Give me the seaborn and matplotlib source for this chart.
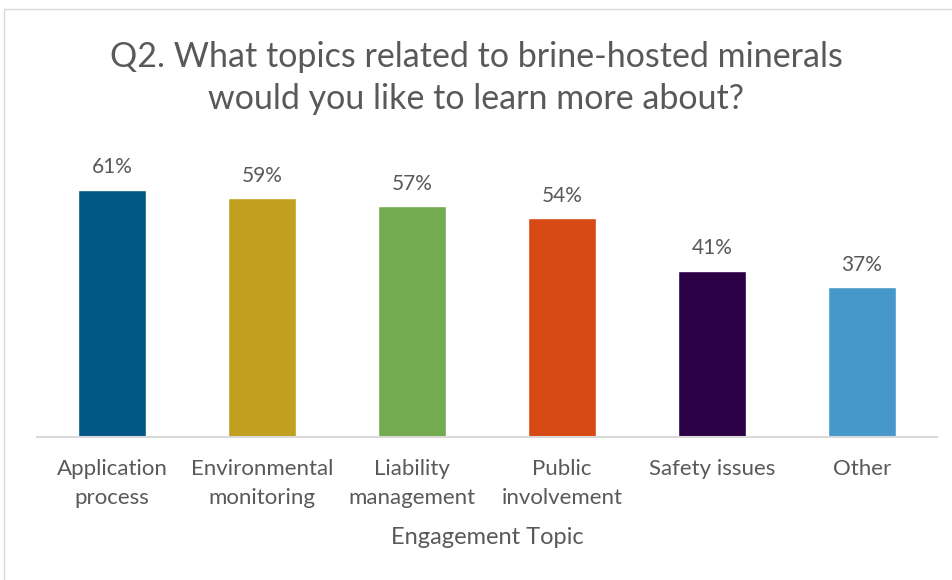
import matplotlib
matplotlib.use("Agg")
import matplotlib.pyplot as plt
import seaborn as sns
import pandas as pd
from matplotlib.patches import Rectangle

categories = ["Application\nprocess", "Environmental\nmonitoring", "Liability\nmanagement",
              "Public\ninvolvement", "Safety issues", "Other"]
values = [61, 59, 57, 54, 41, 37]
value_labels = ["61%", "59%", "57%", "54%", "41%", "37%"]
colors = ["#005685", "#C19F1F", "#73AB50", "#D84A14", "#2B0045", "#4697CA"]

sns.set_theme(style="white")
plt.rcParams["font.family"] = ["Lato", "DejaVu Sans"]
TXT = "#595959"

df = pd.DataFrame({"topic": categories, "pct": values})

fig = plt.figure(figsize=(9.52, 5.8), dpi=100)
fig.patch.set_facecolor("white")
ax = fig.add_axes([37/952, 143/580, 900/952, 0.4888])
sns.barplot(data=df, x="topic", y="pct", hue="topic", palette=colors,
            width=0.45, legend=False, ax=ax, saturation=1)
ax.set_ylim(0, 70)
ax.set_xlim(-0.5, 5.5)
for i, (v, lab) in enumerate(zip(values, value_labels)):
    ax.annotate(lab, (i, v), xytext=(0, 9), textcoords="offset points",
                ha="center", va="bottom", fontsize=15, color=TXT)
for s in ["top", "right", "left"]:
    ax.spines[s].set_visible(False)
ax.spines["bottom"].set_color("#D9D9D9")
ax.spines["bottom"].set_linewidth(1.5)
ax.set_yticks([])
ax.set_ylabel("")
ax.tick_params(axis="x", length=0, pad=16, labelsize=16, labelcolor=TXT)
for t in ax.get_xticklabels():
    t.set_linespacing(1.55)
ax.set_xlabel("Engagement Topic", fontsize=17, color=TXT, labelpad=14)

fig.text(0.5, 1 - 78/580, "Q2. What topics related to brine-hosted minerals\nwould you like to learn more about?",
         ha="center", va="center", fontsize=24.5, color=TXT, linespacing=1.42)

fig.patches.append(Rectangle((4/952, -0.1), 1.2, (580 - 9)/580 + 0.1, transform=fig.transFigure,
                             fill=False, edgecolor="#D9D9D9", linewidth=1))
fig.savefig("out.png", dpi=100, facecolor="white")
